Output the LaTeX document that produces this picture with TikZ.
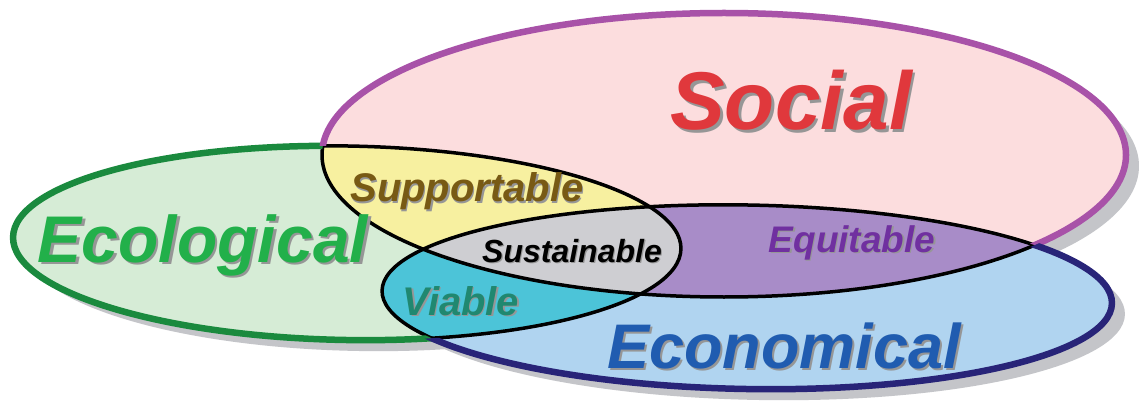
\documentclass[tikz,border=0pt]{standalone}
\usepackage{fontspec}
\setmainfont{Liberation Sans}
\definecolor{efill}{RGB}{214,236,214}
\definecolor{eline}{RGB}{26,138,62}
\definecolor{sfill}{RGB}{252,221,222}
\definecolor{sline}{RGB}{168,82,168}
\definecolor{cfill}{RGB}{176,212,240}
\definecolor{cline}{RGB}{40,36,120}
\definecolor{yelfill}{RGB}{247,240,160}
\definecolor{purfill}{RGB}{168,140,200}
\definecolor{tealfill}{RGB}{76,196,216}
\definecolor{grayfill}{RGB}{206,206,210}
\definecolor{shadowc}{RGB}{196,197,201}
\definecolor{tshadow}{RGB}{150,150,150}
\definecolor{tsocial}{RGB}{224,56,60}
\definecolor{tecol}{RGB}{34,176,74}
\definecolor{tecon}{RGB}{32,92,176}
\definecolor{tsupp}{RGB}{120,90,20}
\definecolor{tequi}{RGB}{112,48,160}
\definecolor{tviab}{RGB}{32,136,112}
\newcommand\pE{(347,175) ellipse [x radius=334, y radius=97, rotate=-1]}
\newcommand\pS{(724,263) ellipse [x radius=402, y radius=142]}
\newcommand\pC{(747,121) ellipse [x radius=365, y radius=92, rotate=-1]}
\newcommand\outside{(-200,700) rectangle (1400,-300)}
\tikzset{
  lbl/.style={inner sep=0pt, anchor=base},
  blackline/.style={draw=black, line width=3.5pt},
  colline/.style={line width=6.5pt},
}
\newcommand\lbl[6]{%
  \node[lbl, text=tshadow, font=\fontsize{#4}{#4}\selectfont\bfseries\itshape] (#1-sh) at (#2+0.035*#4, #3-0.035*#4) {#6};
  \node[lbl, text=#5, font=\fontsize{#4}{#4}\selectfont\bfseries\itshape] (#1) at (#2,#3) {#6};
}
\begin{document}
\begin{tikzpicture}[x=1pt,y=1pt]
\useasboundingbox (0,0) rectangle (1139,418);
\fill[white] (0,0) rectangle (1139,418);
% shadows
\begin{scope}[shift={(13,-11)}]
  \fill[shadowc] \pE;
  \fill[shadowc] \pS;
  \fill[shadowc] \pC;
\end{scope}
% base fills
\fill[efill] \pE;
\fill[sfill] \pS;
\fill[cfill] \pC;
% pairwise intersections
\begin{scope}
  \clip \pE;
  \fill[yelfill] \pS;
  \fill[tealfill] \pC;
\end{scope}
\begin{scope}
  \clip \pS;
  \fill[purfill] \pC;
\end{scope}
\begin{scope}
  \clip \pE;
  \clip \pS;
  \fill[grayfill] \pC;
\end{scope}
% inner black boundaries
\begin{scope}
  \clip \pS \pC;
  \path[blackline] \pE;
\end{scope}
\begin{scope}
  \clip \pE \pC;
  \path[blackline] \pS;
\end{scope}
\begin{scope}
  \clip \pE \pS;
  \path[blackline] \pC;
\end{scope}
% outer coloured boundaries
\begin{scope}[even odd rule]
  \clip \outside \pS;
  \clip \outside \pC;
  \draw[colline, draw=eline] \pE;
\end{scope}
\begin{scope}[even odd rule]
  \clip \outside \pE;
  \clip \outside \pC;
  \draw[colline, draw=sline] \pS;
\end{scope}
\begin{scope}[even odd rule]
  \clip \outside \pE;
  \clip \outside \pS;
  \draw[colline, draw=cline] \pC;
\end{scope}
% labels
\lbl{social}{791}{288}{82}{tsocial}{Social}
\lbl{ecol}{203}{156}{66}{tecol}{Ecological}
\lbl{econ}{784}{50}{63}{tecon}{Economical}
\lbl{supp}{467}{216}{40}{tsupp}{Supportable}
\lbl{sust}{572}{156}{32}{black}{Sustainable}
\lbl{viab}{461}{103}{40}{tviab}{Viable}
\lbl{equi}{852}{166}{37}{tequi}{Equitable}
\end{tikzpicture}
\end{document}
